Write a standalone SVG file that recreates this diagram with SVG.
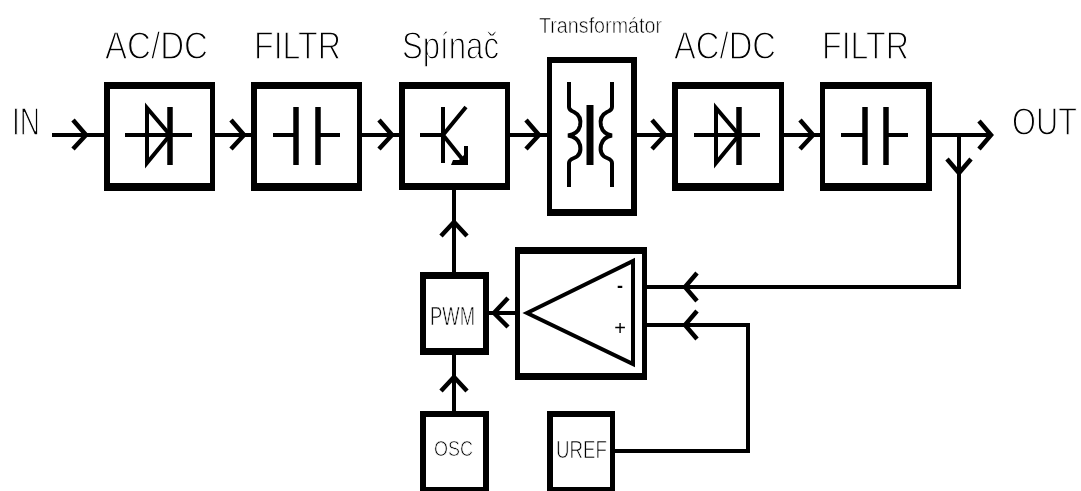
<svg xmlns="http://www.w3.org/2000/svg" width="1081" height="491" viewBox="0 0 1081 491">
<style>
text{font-family:"Liberation Sans",Arial,sans-serif;fill:#000}
.t{font-size:38px;stroke:#fff;stroke-width:1.3px}
.m{stroke:#fff;stroke-width:.7px}
.o{fill:#000}
.i{fill:#fff}
.l{fill:none;stroke:#000;stroke-width:4}
.y{fill:none;stroke:#000;stroke-width:5.5}
.a{fill:none;stroke:#000;stroke-width:4}
.c{fill:none;stroke:#000;stroke-width:4.5}
</style>
<defs><filter id="soft" x="0" y="0" width="100%" height="100%"><feGaussianBlur stdDeviation="0.45"/></filter></defs>
<rect width="1081" height="491" fill="#fff"/>
<g filter="url(#soft)">
<g id="connectors">
<path class="l" d="M52 135H104M215 135H251M362 135H399M510 135H547M637 135H672M784 135H820M932 135H990"/>
<path class="c" d="M73 120L86 135L73 149M231 120L244 135L231 149M379 120L392 135L379 149M526 120L539 135L526 149M652 120L665 135L652 149M800 120L813 135L800 149M979 121L991 135L979 149"/>
<path class="l" d="M959 135V287H647M647 325H748V451H615M454 190V272M454 355V411M489 313H515"/>
<path class="c" d="M947 159L959 173L971 159M697 273L685 287L697 301M697 311L685 325L697 339M508 298L494 313L508 327M441 236L454 222L467 236M441 391L454 377L467 391"/>
</g>
<g id="acdc1"><rect class="o" x="104" y="82" width="111" height="109"/><rect class="i" x="110" y="89" width="100" height="94"/>
<path class="a" d="M125 135H192M147 108V163L170 135Z"/><path class="y" d="M170 107V165"/></g>
<g id="filtr1"><rect class="o" x="251" y="82" width="111" height="109"/><rect class="i" x="257" y="89" width="100" height="94"/>
<path class="y" d="M296 107V165M318 107V165"/><path class="a" d="M273 135H296M318 135H340"/></g>
<g id="spinac"><rect class="o" x="399" y="82" width="111" height="108"/><rect class="i" x="405" y="89" width="100" height="94"/>
<path class="a" d="M443 107V163M420 135H443M443 135L466 107M443 135L463 160"/><path class="o" d="M464 146H468V165H451L453 160H459L464 155Z"/></g>
<g id="transformator"><rect class="o" x="547" y="57" width="90" height="159"/><rect class="i" x="552" y="63" width="79" height="146"/>
<path class="a" d="M569 82V107Q569 110 574 112Q582 116 580 126Q578 134 568 135.500Q578 137 580 145Q582 155 574 158Q569 160 569 163V187M612 82V107Q612 110 607 112Q599 116 601 126Q603 134 612 135.500Q603 137 601 145Q599 155 607 158Q612 160 612 163V187"/>
<path class="y" style="stroke-width:7" d="M590 105V165"/></g>
<g id="acdc2"><rect class="o" x="672" y="82" width="112" height="109"/><rect class="i" x="678" y="89" width="101" height="94"/>
<path class="a" d="M694 135H760M716 108V163L739 135Z"/><path class="y" d="M739 107V165"/></g>
<g id="filtr2"><rect class="o" x="820" y="82" width="112" height="109"/><rect class="i" x="825" y="89" width="101" height="94"/>
<path class="y" d="M865 107V165M886 107V165"/><path class="a" d="M841 135H865M886 135H908"/></g>
<g id="amp"><rect class="o" x="515" y="247" width="132" height="133"/><rect class="i" x="520" y="254" width="122" height="119"/>
<path class="a" d="M527 313L633 261V364Z"/>
<text x="620" y="292" style="font-size:18px;font-weight:bold" text-anchor="middle">-</text><text x="620" y="335" style="font-size:20px" text-anchor="middle">+</text></g>
<g id="pwm"><rect class="o" x="420" y="272" width="69" height="83"/><rect class="i" x="426" y="279" width="57" height="69"/>
<text class="m" x="430" y="325" style="font-size:25px" textLength="45" lengthAdjust="spacingAndGlyphs">PWM</text></g>
<g id="osc"><rect class="o" x="420" y="411" width="69" height="80"/><rect class="i" x="426" y="417" width="57" height="70"/>
<text class="m" x="434" y="456" style="font-size:22px" textLength="39" lengthAdjust="spacingAndGlyphs">OSC</text></g>
<g id="uref"><rect class="o" x="547" y="411" width="68" height="80"/><rect class="i" x="553" y="417" width="57" height="70"/>
<text class="m" x="556" y="458" style="font-size:23px" textLength="51" lengthAdjust="spacingAndGlyphs">UREF</text></g>
<g id="labels">
<text class="t" x="105" y="59" textLength="103" lengthAdjust="spacingAndGlyphs">AC/DC</text>
<text class="t" x="254" y="59" textLength="87" lengthAdjust="spacingAndGlyphs">FILTR</text>
<text class="t" x="402" y="59" textLength="97" lengthAdjust="spacingAndGlyphs">Spínač</text>
<text class="t" x="674" y="59" textLength="102" lengthAdjust="spacingAndGlyphs">AC/DC</text>
<text class="t" x="822" y="59" textLength="87" lengthAdjust="spacingAndGlyphs">FILTR</text>
<text class="t" x="12" y="135" textLength="28" lengthAdjust="spacingAndGlyphs">IN</text>
<text class="t" transform="translate(1012 135) scale(.81 1)">OUT</text>
<text class="m" x="539" y="33" style="font-size:22px;stroke-width:.6px" textLength="123" lengthAdjust="spacingAndGlyphs">Transformátor</text>
</g>
</g>
</svg>
